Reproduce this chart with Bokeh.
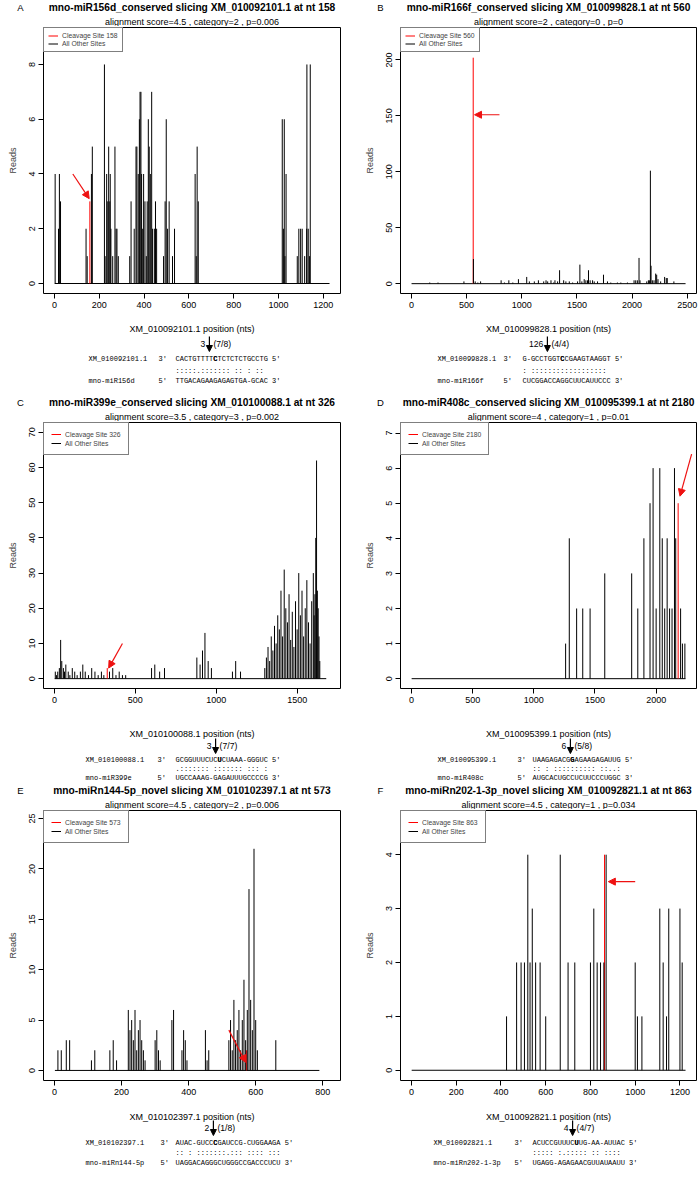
from bokeh.plotting import figure
from bokeh.models import (Arrow, NormalHead, Legend, LegendItem,
                          FixedTicker, Range1d, ColumnDataSource)
from bokeh.layouts import row, column
from bokeh.embed import file_html
from bokeh.resources import INLINE
from bokeh.core.properties import value

# ------------------------------------------------------------------ data
# Panel A
A_pos = [3, 18, 22, 27, 141, 146, 165, 169, 223, 226, 233, 238, 242, 247, 249, 252, 260, 270, 275, 279, 285,
         336, 342, 356, 364, 368, 374, 379, 382, 386, 389, 394, 398, 404, 410, 414, 419, 423, 428, 434, 438,
         446, 451, 456, 487, 494, 499, 505, 512, 527, 536, 628, 633, 637, 642, 1017, 1022, 1026, 1029, 1034,
         1084, 1091, 1099, 1106, 1117, 1126, 1127, 1133, 1139, 1142]
A_reads = [4, 2, 4, 3, 2, 1, 4, 5, 8, 1, 4, 3, 5, 3, 4, 2, 1, 5, 2, 2, 1,
           1, 3, 2, 5, 5, 4, 6, 7, 7, 4, 2, 4, 3, 1, 3, 6, 5, 4, 7, 2,
           2, 3, 2, 1, 3, 6, 2, 3, 1, 2, 4, 1, 5, 3, 6, 2, 6, 1, 4,
           1, 2, 2, 2, 1, 2, 8, 2, 1, 8]
A_site, A_site_reads, A_len = 158, 3, 1228
A_xticks = [0, 200, 400, 600, 800, 1000, 1200]
A_yticks = [0, 2, 4, 6, 8]
A_arrow = [82, 4.0, 155, 3.1]

# Panel B
B_pos = [166, 241, 476, 562, 578, 602, 627, 813, 843, 883, 919, 970, 1045, 1069, 1114, 1151, 1199, 1220,
         1235, 1265, 1289, 1301, 1325, 1343, 1380, 1400, 1431, 1461, 1506, 1527, 1545, 1566, 1581, 1596,
         1605, 1620, 1642, 1657, 1687, 1741, 1777, 1807, 1867, 1898, 1958, 2018, 2033, 2048, 2063, 2072,
         2133, 2148, 2157, 2166, 2172, 2184, 2199, 2214, 2223, 2235, 2259, 2295, 2310, 2319, 2379]
B_reads = [1, 1, 2, 22, 2, 1, 2, 3, 1, 3, 1, 4, 6, 2, 2, 3, 2, 3,
           2, 3, 1, 3, 2, 12, 3, 2, 2, 1, 2, 17, 2, 4, 3, 3,
           12, 3, 3, 2, 2, 8, 2, 1, 1, 1, 1, 3, 3, 3, 23, 3,
           2, 3, 3, 101, 16, 3, 3, 9, 8, 4, 2, 6, 5, 5, 2]
B_site, B_site_reads, B_len = 560, 202, 2485
B_xticks = [0, 500, 1000, 1500, 2000, 2500]
B_yticks = [0, 50, 100, 150, 200]
B_arrow = [798, 151, 572, 151]

# Panel C
C_pos = [5, 12, 20, 30, 38, 45, 55, 62, 70, 85, 95, 110, 125, 140, 160, 175, 190, 210, 230, 250, 270, 290,
         305, 340, 360, 380, 400, 420, 440,
         600, 620, 650, 680, 880, 900, 915, 930, 950, 970, 1100, 1120, 1150,
         1300, 1310, 1320, 1330, 1340, 1350, 1360, 1370, 1380, 1390, 1400, 1410, 1420, 1430, 1440, 1450,
         1460, 1470, 1480, 1490, 1500, 1510, 1520, 1530, 1540, 1550, 1560, 1570, 1580, 1590, 1600, 1605,
         1610, 1615, 1620, 1625, 1630, 1635, 1640]
C_reads = [2, 1, 2, 3, 11, 5, 3, 2, 4, 2, 1, 3, 2, 1, 2, 4, 2, 1, 3, 2, 1, 2,
           1, 2, 3, 1, 2, 1, 1,
           3, 4, 2, 3, 6, 4, 8, 13, 5, 3, 2, 5, 2,
           3, 6, 9, 5, 12, 8, 15, 10, 18, 14, 25, 12, 31, 20, 16, 24,
           11, 19, 9, 22, 14, 30, 18, 25, 12, 20, 28, 16, 10, 22, 30, 18,
           24, 40, 62, 25, 20, 12, 5]
C_site, C_site_reads, C_len = 326, 3, 1680
C_xticks = [0, 500, 1000, 1500]
C_yticks = [0, 10, 20, 30, 40, 50, 60, 70]
C_arrow = [420, 10, 335, 3]

# Panel D
D_pos = [1260, 1290, 1350, 1400, 1460, 1580, 1800, 1850, 1900, 1950, 1975, 2000, 2030, 2050, 2070,
         2090, 2110, 2130, 2150, 2160, 2200, 2215, 2235]
D_reads = [1, 4, 2, 2, 2, 3, 3, 2, 4, 5, 6, 2, 6, 4, 2,
           4, 2, 2, 6, 4, 2, 1, 1]
D_site, D_site_reads, D_len = 2180, 5, 2240
D_xticks = [0, 500, 1000, 1500, 2000]
D_yticks = [0, 1, 2, 3, 4, 5, 6, 7]
D_arrow = [2290, 6.4, 2195, 5.2]

# Panel E
E_pos = [10, 20, 35, 45, 110, 120, 165, 175, 185, 220, 225, 230, 235, 240, 245, 250, 255, 260, 265, 270,
         300, 305, 310, 315, 350, 355, 380, 385, 390, 395, 450, 455, 460, 520, 525, 530, 535, 540, 545,
         550, 555, 560, 565, 570, 575, 580, 585, 590, 595, 600, 605, 660]
E_reads = [2, 2, 3, 3, 1, 2, 2, 3, 1, 6, 4, 5, 3, 6, 2, 4, 5, 3, 2, 1,
           3, 4, 2, 1, 5, 6, 2, 4, 3, 1, 4, 1, 2, 3, 5, 2, 7, 3, 4,
           6, 2, 5, 9, 3, 6, 18, 7, 4, 22, 5, 2, 3]
E_site, E_site_reads, E_len = 573, 2, 790
E_xticks = [0, 200, 400, 600, 800]
E_yticks = [0, 5, 10, 15, 20, 25]
E_arrow = [520, 4, 570, 0.8]

# Panel F
F_pos = [425, 470, 490, 505, 520, 530, 540, 555, 575, 600, 665, 700, 730, 800, 815, 830, 845, 860, 870,
         1000, 1010, 1030, 1110, 1125, 1140, 1150, 1200, 1210]
F_reads = [1, 2, 2, 2, 4, 2, 3, 2, 2, 1, 4, 2, 2, 2, 3, 2, 2, 2, 4,
           2, 1, 1, 3, 2, 1, 3, 3, 2]
F_site, F_site_reads, F_len = 863, 4, 1225
F_xticks = [0, 200, 400, 600, 800, 1000, 1200]
F_yticks = [0, 1, 2, 3, 4]
F_arrow = [1000, 3.5, 880, 3.5]

# texts
titles = ["mno-miR156d_conserved slicing XM_010092101.1 at nt 158",
          "mno-miR166f_conserved slicing XM_010099828.1 at nt 560",
          "mno-miR399e_conserved slicing XM_010100088.1 at nt 326",
          "mno-miR408c_conserved slicing XM_010095399.1 at nt 2180",
          "mno-miRn144-5p_novel slicing XM_010102397.1 at nt 573",
          "mno-miRn202-1-3p_novel slicing XM_010092821.1 at nt 863"]
subtitles = ["alignment score=4.5 , category=2 , p=0.006",
             "alignment score=2 , category=0 , p=0",
             "alignment score=3.5 , category=3 , p=0.002",
             "alignment score=4 , category=1 , p=0.01",
             "alignment score=4.5 , category=2 , p=0.006",
             "alignment score=4.5 , category=1 , p=0.034"]
transcripts = ["XM_010092101.1", "XM_010099828.1", "XM_010100088.1",
               "XM_010095399.1", "XM_010102397.1", "XM_010092821.1"]
mirnas = ["mno-miR156d", "mno-miR166f", "mno-miR399e", "mno-miR408c", "mno-miRn144-5p", "mno-miRn202-1-3p"]
target_seqs = ["CACTGTTTTCTCTCTCTGCCTG", "G-GCCTGGTCCGAAGTAAGGT", "GCGGUUUCUCUCUAAA-GGGUC",
               "UAAGAGACGGAGAAGAGAUUG", "AUAC-GUCCCGAUCCG-CUGGAAGA", "ACUCCGUUUCUUG-AA-AUUAC"]
match_strs = [" :::::.::::::: :: : ::", ": ::::::::::::::::::", ".::::::: ::::::: ::: :",
              ":: : :::::::::: ::..:", ":: : :::::::.::: :::: :::", "::::: :.::::: :: ::::"]
mirna_seqs = ["TTGACAGAAGAGAGTGA-GCAC", "CUCGGACCAGGCUUCAUUCCC", "UGCCAAAG-GAGAUUUGCCCCG",
              "AUGCACUGCCUCUUCCCUGGC", "UAGGACAGGGCUGGGCCGACCCUCU", "UGAGG-AGAGAACGUUAUAAUU"]
bold_idx = [9, 9, 10, 9, 9, 10]
arrow_left = ["3", "126", "3", "6", "2", "4"]
arrow_right = ["(7/8)", "(4/4)", "(7/7)", "(5/8)", "(1/8)", "(4/7)"]
letters = ["A", "B", "C", "D", "E", "F"]

# ------------------------------------------------------------------ layout / style
SANS = "Liberation Sans"
MONO = "Liberation Mono"
CW = 4.2
ROWS = [
    dict(top=0, ftop=27, fbot=293, bot=394, title=7, sub=21, xlab=328, arr=343, t=358, m=370, q=380,
         lpad=4, lh=7),
    dict(top=394, ftop=422, fbot=688, bot=786, title=402, sub=416, xlab=733, arr=745, t=759, m=768, q=777,
         lpad=7, lh=8),
    dict(top=786, ftop=810, fbot=1080, bot=1181, title=790, sub=804, xlab=1116, arr=1127, t=1142, m=1152.5, q=1162,
         lpad=7, lh=8),
]
COLS = [dict(left=0, width=350, fl=43, fr=340, letter=20),
        dict(left=350, width=350, fl=400, fr=696, letter=380)]
ALN_X = [(88, 158, 175), (437, 503, 522), (85, 157, 175),
         (437, 517, 532), (85, 160, 175), (433, 514, 532)]
ARROW_DX = [-6, -15, -4, -2, -2, -4]
MB_BOT = 22

panel_data = [
    (A_pos, A_reads, A_site, A_site_reads, A_len, A_xticks, A_yticks, A_arrow, (-49, 1277), (-0.365, 9.35)),
    (B_pos, B_reads, B_site, B_site_reads, B_len, B_xticks, B_yticks, B_arrow, (-99, 2584), (-8.8, 229)),
    (C_pos, C_reads, C_site, C_site_reads, C_len, C_xticks, C_yticks, C_arrow, (-68, 1768), (-2.8, 72.8)),
    (D_pos, D_reads, D_site, D_site_reads, D_len, D_xticks, D_yticks, D_arrow, (-90, 2330), (-0.28, 7.3)),
    (E_pos, E_reads, E_site, E_site_reads, E_len, E_xticks, E_yticks, E_arrow, (-33, 853), (-1.0, 25.8)),
    (F_pos, F_reads, F_site, F_site_reads, F_len, F_xticks, F_yticks, F_arrow, (-49, 1274), (-0.19, 4.82)),
]


def text_fig(x0, w, y0, y1):
    """A blank figure whose data coordinates are page pixels (y downward)."""
    p = figure(width=w, height=y1 - y0, output_backend="svg", toolbar_location=None, title=None,
               x_range=Range1d(x0, x0 + w), y_range=Range1d(y1, y0),
               x_axis_location=None, y_axis_location=None, min_border=0)
    p.frame_align = False
    p.grid.visible = False
    p.outline_line_color = None
    p.background_fill_color = "white"
    p.border_fill_color = "white"
    return p


def put(p, x, y, s, size, font=SANS, style="normal", align="left"):
    p.text(x=[x], y=[y], text=[s], text_font=value(font), text_font_size=value("%spx" % size),
           text_font_style=style, text_align=align, text_baseline="middle", text_color="black")


def make_panel(i):
    r, c = divmod(i, 2)
    R, C = ROWS[r], COLS[c]
    pos, reads, site, site_reads, L, xt, yt, arr, xr, yr = panel_data[i]
    W = C['width']
    cx = (C['fl'] + C['fr']) / 2

    hdr = text_fig(C['left'], W, R['top'], R['ftop'] - 1)
    put(hdr, C['letter'], R['title'], letters[i], 9.5, align="center")
    put(hdr, cx, R['title'], titles[i], 10.2, style="bold", align="center")
    put(hdr, cx, R['sub'], subtitles[i], 9, align="center")

    main_h = (R['fbot'] - R['ftop']) + 1 + MB_BOT
    p = figure(width=W, height=main_h, output_backend="svg", toolbar_location=None, title=None,
               x_range=Range1d(*xr), y_range=Range1d(*yr),
               min_border_left=C['fl'] - C['left'], min_border_right=C['left'] + W - C['fr'],
               min_border_top=1, min_border_bottom=MB_BOT)
    p.frame_align = False
    p.grid.visible = False
    p.outline_line_color = "black"
    p.outline_line_width = 1
    p.background_fill_color = "white"
    p.border_fill_color = "white"
    for ax in (p.xaxis[0], p.yaxis[0]):
        ax.axis_line_color = None
        ax.major_tick_out = 5
        ax.major_tick_in = 0
        ax.minor_tick_line_color = None
        ax.major_tick_line_color = "black"
        ax.major_label_text_font = SANS
        ax.major_label_text_font_size = "9px"
        ax.major_label_text_color = "black"
        ax.major_label_standoff = 3
    p.xaxis.ticker = FixedTicker(ticks=xt)
    p.yaxis.ticker = FixedTicker(ticks=yt)
    p.yaxis.major_label_orientation = "vertical"
    p.yaxis.axis_label = "Reads"
    p.yaxis.axis_label_text_font = SANS
    p.yaxis.axis_label_text_font_size = "9px"
    p.yaxis.axis_label_text_font_style = "normal"
    p.yaxis.axis_label_standoff = 9

    p.segment(x0=[1], y0=[0], x1=[L], y1=[0], line_color="black", line_width=1)
    red = p.segment(x0=[site], y0=[0], x1=[site], y1=[site_reads], line_color="#FF0000", line_width=1)
    src = ColumnDataSource(dict(x=pos, y=reads, z=[0] * len(pos)))
    blk = p.segment(x0="x", y0="z", x1="x", y1="y", source=src, line_color="black", line_width=1)
    p.add_layout(Arrow(x_start=arr[0], y_start=arr[1], x_end=arr[2], y_end=arr[3],
                       line_color="#EE1111", line_width=1.2,
                       end=NormalHead(size=7, fill_color="#EE1111", line_color="#EE1111")))

    lg = Legend(items=[LegendItem(label="Cleavage Site %d" % site, renderers=[red]),
                       LegendItem(label="All Other Sites", renderers=[blk])],
                location="top_left", margin=0, padding=R['lpad'], spacing=1,
                label_text_font=SANS, label_text_font_size="6.8px", label_height=R['lh'],
                glyph_height=R['lh'], glyph_width=10, label_standoff=4,
                border_line_color="black", border_line_width=1, background_fill_alpha=1.0)
    p.add_layout(lg)

    ftop = R['ftop'] - 1 + main_h
    ftr = text_fig(C['left'], W, ftop, R['bot'])
    put(ftr, cx, R['xlab'], transcripts[i] + " position (nts)", 9, align="center")
    nx, mx, sx = ALN_X[i]
    ax_ = sx + (bold_idx[i] + 0.5) * CW + ARROW_DX[i]
    put(ftr, ax_ - 4, R['arr'], arrow_left[i], 8.6, align="right")
    put(ftr, ax_ + 4, R['arr'], arrow_right[i], 8.6, align="left")
    ftr.add_layout(Arrow(x_start=ax_, y_start=R['arr'] - 7, x_end=ax_, y_end=R['arr'] + 8,
                         line_color="black", line_width=1.2,
                         end=NormalHead(size=6, fill_color="black", line_color="black")))
    ts, ms = target_seqs[i], mirna_seqs[i]
    put(ftr, nx, R['t'], transcripts[i], 7, font=MONO)
    put(ftr, mx, R['t'], "3'", 7, font=MONO)
    put(ftr, sx, R['t'], ts + " 5'", 7, font=MONO)
    put(ftr, sx + bold_idx[i] * CW, R['t'], ts[bold_idx[i]], 7, font=MONO, style="bold")
    put(ftr, sx, R['m'], match_strs[i], 7, font=MONO)
    put(ftr, nx, R['q'], mirnas[i], 7, font=MONO)
    put(ftr, mx, R['q'], "5'", 7, font=MONO)
    put(ftr, sx, R['q'], ms + " 3'", 7, font=MONO)
    return column(hdr, p, ftr)


panels = [make_panel(i) for i in range(6)]
layout = column(row(panels[0], panels[1]), row(panels[2], panels[3]), row(panels[4], panels[5]))
open("out.html", "w").write(file_html(layout, INLINE))
